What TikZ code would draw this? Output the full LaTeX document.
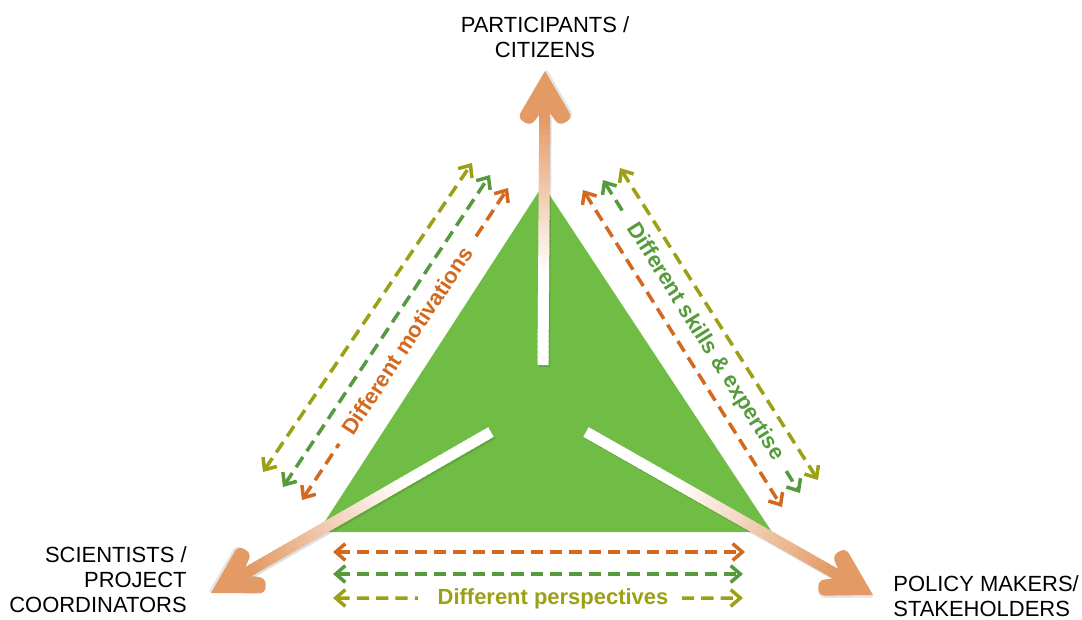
\documentclass[tikz,border=0pt]{standalone}
\usepackage{fontspec}
\setmainfont{Liberation Sans}
\usetikzlibrary{arrows.meta,calc}
\definecolor{tgreen}{RGB}{112,189,69}
\definecolor{dorange}{RGB}{210,105,30}
\definecolor{dgreen}{RGB}{85,155,60}
\definecolor{dolive}{RGB}{155,160,20}
\definecolor{abase}{RGB}{255,255,255}
\definecolor{atip}{RGB}{227,154,100}
\begin{document}
\begin{tikzpicture}[x=0.02cm,y=-0.02cm,
  dbl/.style={line width=2pt, dash pattern=on 7pt off 4pt},
  tipa/.style={-{Straight Barb[length=5.5pt,width=9.5pt]}},
  tipb/.style={{Straight Barb[length=5.5pt,width=9.5pt]}-},
  tipab/.style={{Straight Barb[length=5.5pt,width=9.5pt]}-{Straight Barb[length=5.5pt,width=9.5pt]}},
  lab/.style={font=\fontsize{12.5}{14.2}\selectfont, inner sep=0pt},
  dtext/.style={font=\bfseries\fontsize{12.5}{14}\selectfont, inner sep=0pt},
  head/.style={fill=atip},
  shadow/.style={line width=0.22cm, black, opacity=0.12}]
\useasboundingbox (0,0) rectangle (1082,619);

% triangle
\fill[tgreen] (543,185) -- (318,532) -- (772,532) -- cycle;

% ---- dashed arrows, left side
\coordinate (yLa) at (263,472); \coordinate (yLb) at (472,163);
\coordinate (gLa) at (283,487); \coordinate (gLb) at (490,175);
\coordinate (oLa) at (302,500); \coordinate (oLb) at (508,188);
\draw[dbl,dolive,tipab] (yLa) -- (yLb);
\draw[dbl,dgreen,tipab] (gLa) -- (gLb);
\draw[dbl,dorange,tipb] (oLa) -- ($(oLa)!0.18!(oLb)$);
\draw[dbl,dorange,tipa] ($(oLa)!0.845!(oLb)$) -- (oLb);
\node[dtext,text=dorange,rotate=56.6] (mot) at ($(oLa)!0.51!(oLb)$) {Different motivations};

% ---- dashed arrows, right side
\coordinate (oRa) at (583,190); \coordinate (oRb) at (782,507);
\coordinate (gRa) at (603,180); \coordinate (gRb) at (800,493);
\coordinate (yRa) at (620,168); \coordinate (yRb) at (818,480);
\draw[dbl,dorange,tipab] (oRa) -- (oRb);
\draw[dbl,dolive,tipab] (yRa) -- (yRb);
\draw[dbl,dgreen,tipb] (gRa) -- ($(gRa)!0.105!(gRb)$);
\draw[dbl,dgreen,tipa] ($(gRa)!0.93!(gRb)$) -- (gRb);
\node[dtext,text=dgreen,rotate=-57.8] (skl) at ($(gRa)!0.517!(gRb)$) {Different skills \& expertise};

% ---- dashed arrows, bottom
\coordinate (oBa) at (333,552); \coordinate (oBb) at (745,552);
\coordinate (gBa) at (333,574); \coordinate (gBb) at (743,574);
\coordinate (yBa) at (333,598); \coordinate (yBb) at (743,598);
\draw[dbl,dorange,tipab] (oBa) -- (oBb);
\draw[dbl,dgreen,tipab] (gBa) -- (gBb);
\draw[dbl,dolive,tipb] (yBa) -- ($(yBa)!0.207!(yBb)$);
\draw[dbl,dolive,tipa] ($(yBa)!0.851!(yBb)$) -- (yBb);
\node[dtext,text=dolive,anchor=base] (per) at (553,604) {Different perspectives};

% ---- big arrows
\coordinate (sU) at (543,365); \coordinate (tU) at (545,71);
\coordinate (sL) at (491,432); \coordinate (tL) at (211,593);
\coordinate (sR) at (586,432); \coordinate (tR) at (873,595);
\coordinate (bU) at ($(tU)!0.86cm!(sU)$);
\coordinate (bL) at ($(tL)!0.86cm!(sL)$);
\coordinate (bR) at ($(tR)!0.86cm!(sR)$);
% soft shadows
\foreach \s/\b in {sU/bU,sL/bL,sR/bR}{
  \draw[shadow] ($(\s)+(1.5,2)$) -- ($(\b)+(1.5,2)$);
}
% shaded shafts
\foreach \s/\b in {sU/bU,sL/bL,sR/bR}{
  \foreach \i in {0,...,49}{
    \pgfmathtruncatemacro\p{round(100*max(0,(\i/49-0.36)/0.64))}
    \draw[line width=0.22cm, color=atip!\p!abase] ($(\s)!{\i/50}!(\b)$) -- ($(\s)!{(\i+1.3)/50}!(\b)$);
  }
}
\foreach \t/\a in {tU/90,tL/209.9,tR/-29.6}{
  \begin{scope}[shift={(\t)},rotate=\a]
    \fill[black,opacity=0.1,shift={(1.5,2)}] (0,0) [rounded corners=3.5pt] -- (-47,-27.5) -- (-55,-14.3) [sharp corners] -- (-43,-5.5) -- (-43,5.5) [rounded corners=3.5pt] -- (-55,14.3) -- (-47,27.5) [sharp corners] -- cycle;
    \fill[head] (0,0) [rounded corners=3.5pt] -- (-47,-27.5) -- (-55,-14.3) [sharp corners] -- (-43,-5.5) -- (-43,5.5) [rounded corners=3.5pt] -- (-55,14.3) -- (-47,27.5) [sharp corners] -- cycle;
  \end{scope}
}

% ---- labels
\node[lab,align=center,anchor=base] (part) at (545,57) {PARTICIPANTS /\\CITIZENS};
\node[lab,align=right,anchor=base east] (sci) at (187,612) {SCIENTISTS /\\PROJECT\\COORDINATORS};
\node[lab,align=left,anchor=base west] (pol) at (893,616) {POLICY MAKERS/\\STAKEHOLDERS};
\end{tikzpicture}
\end{document}
